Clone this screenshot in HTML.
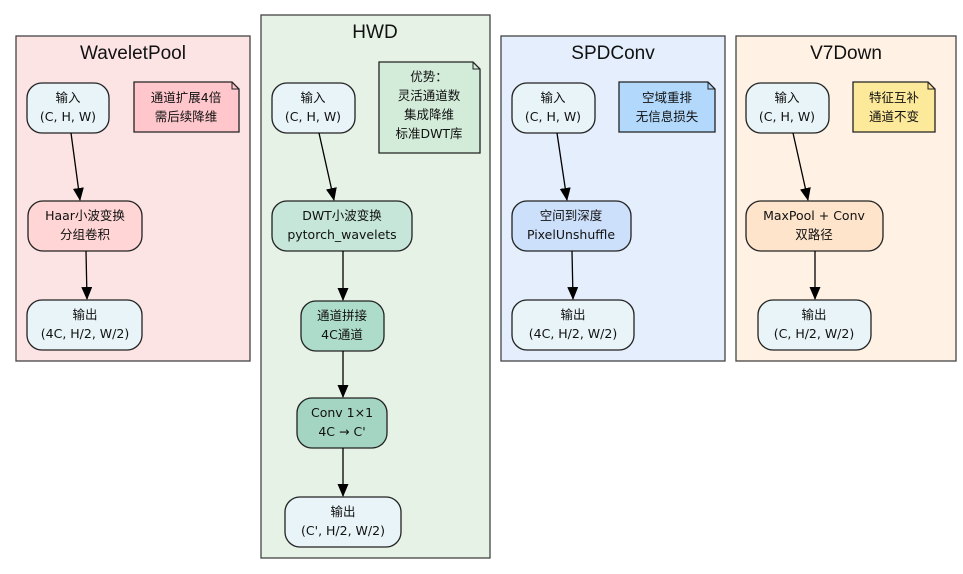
<!DOCTYPE html>
<html><head><meta charset="utf-8"><style>
html,body{margin:0;padding:0;background:#fff;width:963px;height:574px;overflow:hidden}
text{font-family:"Liberation Sans","Noto Sans CJK SC",sans-serif;fill:#111}
.t text{font-family:"DejaVu Sans","Noto Sans CJK SC",sans-serif;font-size:12.5px}
.h{font-size:19px}
.n{stroke:#222;stroke-width:1.3}
.c{stroke:#444;stroke-width:1.3}
.e{stroke:#000;stroke-width:1.3;fill:none}
</style></head><body>
<svg width="963" height="574" viewBox="0 0 963 574" xmlns="http://www.w3.org/2000/svg">
<defs><marker id="a" markerWidth="13" markerHeight="11" refX="12" refY="5.5" orient="auto" markerUnits="userSpaceOnUse"><path d="M0,0 L13,5.5 L0,11 z" fill="#000"/></marker></defs>
<rect class="c" x="16" y="36" width="234" height="325" fill="#fde4e4"/>
<rect class="c" x="261" y="15" width="229" height="543" fill="#e6f2e6"/>
<rect class="c" x="501" y="36" width="224" height="325" fill="#e4eefd"/>
<rect class="c" x="736" y="36" width="220" height="325" fill="#fff2e4"/>
<g class="h" text-anchor="middle">
<text x="133" y="59">WaveletPool</text>
<text x="375" y="38">HWD</text>
<text x="613" y="59">SPDConv</text>
<text x="846" y="59">V7Down</text>
</g>
<g class="n">
<path d="M134,82 H232 L239,89 V132 H134 Z" fill="#ffc6cc"/>
<path d="M379,62 H473 L480,69 V153 H379 Z" fill="#d3ecd9"/>
<path d="M619,82 H708 L715,89 V132 H619 Z" fill="#b2d8fb"/>
<path d="M853,82 H928 L935,89 V132 H853 Z" fill="#fde99a"/>
</g>
<g fill="none" stroke="#222" stroke-width="1">
<path d="M232,82 V89 H239"/><path d="M473,62 V69 H480"/><path d="M708,82 V89 H715"/><path d="M928,82 V89 H935"/>
</g>
<g class="n">
<rect x="27" y="83" width="82" height="50" rx="15" fill="#e8f4f8"/>
<rect x="28" y="201" width="114" height="50" rx="15" fill="#ffd5d5"/>
<rect x="27" y="300" width="115" height="50" rx="15" fill="#e8f4f8"/>
<rect x="272" y="83" width="83" height="50" rx="15" fill="#e8f4f8"/>
<rect x="272" y="201" width="140" height="50" rx="15" fill="#c5e6d8"/>
<rect x="301" y="301" width="83" height="50" rx="15" fill="#aedccb"/>
<rect x="297" y="398" width="90" height="50" rx="15" fill="#a4d5c2"/>
<rect x="285" y="497" width="116" height="50" rx="15" fill="#e8f4f8"/>
<rect x="512" y="83" width="83" height="50" rx="15" fill="#e8f4f8"/>
<rect x="512" y="201" width="119" height="50" rx="15" fill="#cde0fb"/>
<rect x="512" y="300" width="122" height="50" rx="15" fill="#e8f4f8"/>
<rect x="746" y="83" width="83" height="50" rx="15" fill="#e8f4f8"/>
<rect x="746" y="201" width="137" height="50" rx="15" fill="#fee4cb"/>
<rect x="758" y="300" width="113" height="50" rx="15" fill="#e8f4f8"/>
</g>
<g class="e" marker-end="url(#a)">
<line x1="71" y1="133" x2="80" y2="200"/>
<line x1="86" y1="251" x2="87" y2="299"/>
<line x1="319" y1="133" x2="334" y2="200"/>
<line x1="343" y1="251" x2="343" y2="300"/>
<line x1="343" y1="351" x2="343" y2="397"/>
<line x1="343" y1="448" x2="343" y2="496"/>
<line x1="557" y1="133" x2="567" y2="200"/>
<line x1="572" y1="251" x2="573" y2="299"/>
<line x1="793" y1="133" x2="808" y2="200"/>
<line x1="815" y1="251" x2="815" y2="299"/>
</g>
<g class="t" text-anchor="middle">
<text x="68" y="102">输入</text><text x="68" y="121">(C, H, W)</text>
<text x="186" y="102">通道扩展4倍</text><text x="186" y="121">需后续降维</text>
<text x="85" y="220">Haar小波变换</text><text x="85" y="239">分组卷积</text>
<text x="85" y="319">输出</text><text x="85" y="338">(4C, H/2, W/2)</text>

<text x="313" y="102">输入</text><text x="313" y="121">(C, H, W)</text>
<text x="429" y="81">优势：</text><text x="429" y="100">灵活通道数</text><text x="429" y="119">集成降维</text><text x="429" y="138">标准DWT库</text>
<text x="342" y="220">DWT小波变换</text><text x="342" y="239">pytorch_wavelets</text>
<text x="342" y="320">通道拼接</text><text x="342" y="339">4C通道</text>
<text x="342" y="417">Conv 1×1</text><text x="342" y="436">4C → C'</text>
<text x="343" y="516">输出</text><text x="343" y="535">(C', H/2, W/2)</text>

<text x="553" y="102">输入</text><text x="553" y="121">(C, H, W)</text>
<text x="667" y="102">空域重排</text><text x="667" y="121">无信息损失</text>
<text x="571" y="220">空间到深度</text><text x="571" y="239">PixelUnshuffle</text>
<text x="573" y="319">输出</text><text x="573" y="338">(4C, H/2, W/2)</text>

<text x="787" y="102">输入</text><text x="787" y="121">(C, H, W)</text>
<text x="894" y="102">特征互补</text><text x="894" y="121">通道不变</text>
<text x="814" y="220">MaxPool + Conv</text><text x="814" y="239">双路径</text>
<text x="814" y="319">输出</text><text x="814" y="338">(C, H/2, W/2)</text>
</g>
</svg>
</body></html>
